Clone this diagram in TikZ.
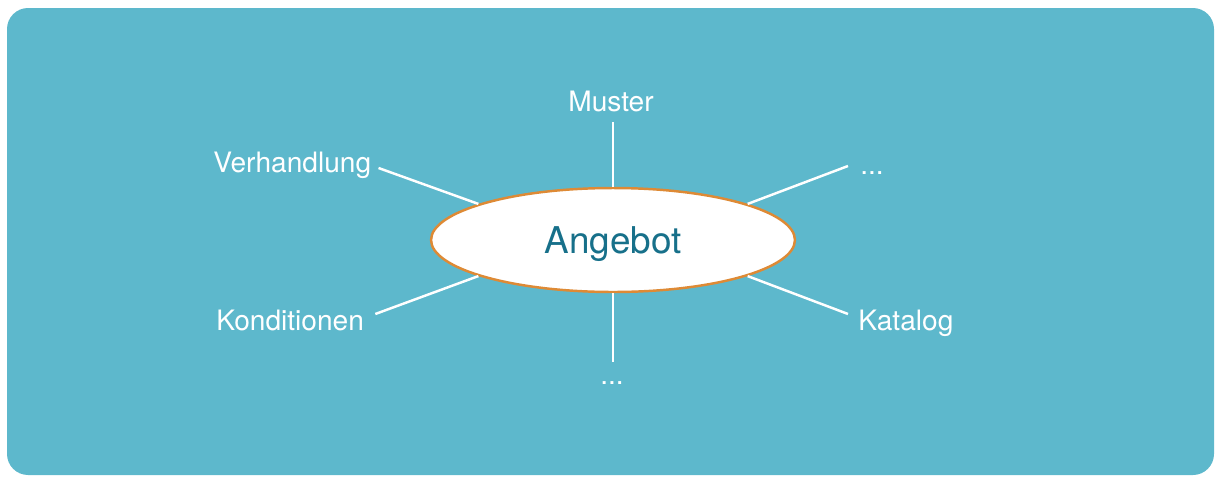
\documentclass[tikz,border=0pt]{standalone}
\usepackage{fontspec}
\setmainfont{TeX Gyre Heros}
\usepackage{tikz}
\usetikzlibrary{shapes.geometric}

\definecolor{boxblue}{HTML}{5DB8CC}
\definecolor{rimorange}{HTML}{DE8A35}
\definecolor{darkteal}{HTML}{17708A}

\begin{document}
\begin{tikzpicture}[x=0.02cm,y=-0.02cm,
  main node/.style={ellipse,draw=rimorange,fill=white,line width=1.4pt,minimum width=7.28cm,minimum height=2.08cm,inner sep=0pt,text depth=0pt,text=darkteal,font=\fontsize{21}{25}\selectfont},
  leaf node/.style={inner sep=0pt,text=white,font=\fontsize{16}{19}\selectfont}]

  \useasboundingbox (0,0) rectangle (1216,477);
  \fill[boxblue, rounded corners=12] (7,8) rectangle (1214,475);

  \node[main node] (angebot) at (613,240) {Angebot};

  \node[leaf node, anchor=base] (muster) at (611,111) {Muster};
  \node[leaf node, anchor=base west] (verhandlung) at (213,172) {Verhandlung};
  \node[leaf node, anchor=base west] (konditionen) at (216,330) {Konditionen};
  \node[leaf node, anchor=base west] (katalog) at (858,330) {Katalog};
  \node[leaf node, anchor=base west] (more) at (860,174) {...};
  \node[leaf node, anchor=base] (moredown) at (612,384) {...};

  \path[draw=white, line width=1.4pt]
    (angebot.north) edge ([shift={(2,11)}]muster.base)
    (angebot.south) edge ([shift={(1,-22)}]moredown.base)
    (angebot.165) edge ([shift={(7,-4)}]verhandlung.base east)
    (angebot.195) edge ([shift={(11,-16)}]konditionen.base east)
    (angebot.15) edge ([shift={(-12,-8)}]more.base west)
    (angebot.345) edge ([shift={(-10,-16)}]katalog.base west);

\end{tikzpicture}
\end{document}
